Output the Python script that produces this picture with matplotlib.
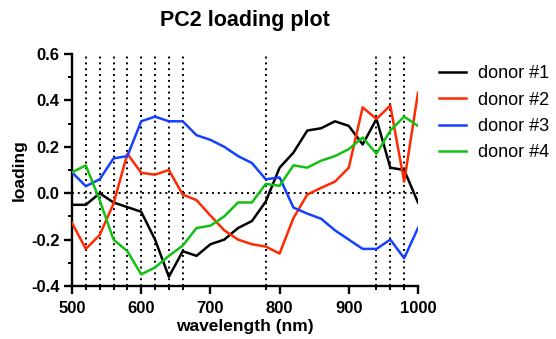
import matplotlib
matplotlib.use("Agg")
import matplotlib.pyplot as plt
import numpy as np

plt.rcParams['font.family'] = ['Liberation Sans', 'DejaVu Sans']
plt.rcParams['axes.unicode_minus'] = False

# wavelengths (nm), one point every 20 nm
wavelength = list(range(500, 1001, 20))

donor1 = [-0.05, -0.05, 0.00, -0.04, -0.06, -0.08, -0.20, -0.36, -0.25, -0.27,
          -0.22, -0.20, -0.15, -0.12, -0.036, 0.11, 0.175, 0.27, 0.28, 0.31,
          0.29, 0.21, 0.32, 0.11, 0.10, -0.04]
donor2 = [-0.128, -0.24, -0.18, -0.045, 0.17, 0.088, 0.08, 0.10, -0.006, -0.03,
          -0.096, -0.16, -0.20, -0.22, -0.23, -0.26, -0.107, -0.006, 0.023, 0.05,
          0.11, 0.37, 0.32, 0.378, 0.05, 0.433]
donor3 = [0.09, 0.03, 0.06, 0.15, 0.16, 0.31, 0.33, 0.31, 0.31, 0.25,
          0.23, 0.20, 0.16, 0.13, 0.06, 0.068, -0.062, -0.088, -0.11, -0.16,
          -0.20, -0.24, -0.24, -0.20, -0.28, -0.15]
donor4 = [0.09, 0.12, -0.03, -0.20, -0.25, -0.35, -0.32, -0.27, -0.226, -0.15,
          -0.14, -0.10, -0.04, -0.04, 0.04, 0.032, 0.12, 0.11, 0.14, 0.16,
          0.19, 0.24, 0.17, 0.27, 0.33, 0.29]

labels = ['donor #1', 'donor #2', 'donor #3', 'donor #4']
colors = ['#000000', '#ff2a00', '#1440ff', '#14c014']

# wavelengths marked with dotted lines
marked = [520, 540, 560, 580, 600, 620, 640, 660, 780, 940, 960, 980]

fig = plt.figure(figsize=(5.56, 3.39), dpi=100)
ax = fig.add_axes([0.1295, 0.1563, 0.6223, 0.6844])

for x in marked:
    ax.axvline(x, color='black', ls=(0, (1, 2)), lw=1.4, zorder=1)
ax.axhline(0, color='black', ls=(0, (1, 2)), lw=1.4, zorder=1)

for ys, lab, c in zip([donor1, donor2, donor3, donor4], labels, colors):
    ax.plot(wavelength, ys, color=c, lw=1.8, label=lab, zorder=3)

ax.set_xlim(500, 1000)
ax.set_ylim(-0.4, 0.6)
ax.set_xticks(range(500, 1001, 100))
ax.set_xticks(marked, minor=True)
ax.set_yticks(np.arange(-0.4, 0.61, 0.2))
ax.set_yticks(np.arange(-0.3, 0.6, 0.2), minor=True)
ax.set_yticklabels(['-0.4', '-0.2', '0.0', '0.2', '0.4', '0.6'])

for s in ['top', 'right']:
    ax.spines[s].set_visible(False)
for s in ['left', 'bottom']:
    ax.spines[s].set_linewidth(1.7)

ax.tick_params(which='major', length=6, width=1.7, labelsize=12)
ax.tick_params(axis='x', which='major', pad=5)
ax.tick_params(axis='y', which='major', pad=3)
ax.tick_params(which='minor', length=3, width=1.4)
for t in ax.get_xticklabels() + ax.get_yticklabels():
    t.set_fontweight('bold')

ax.set_xlabel('wavelength (nm)', fontsize=12.5, fontweight='bold', labelpad=2)
ax.set_ylabel('loading', fontsize=12.5, fontweight='bold', labelpad=3)
ax.set_title('PC2 loading plot', fontsize=15.5, fontweight='bold', pad=20)

ax.legend(loc='upper left', bbox_to_anchor=(1.04, 0.983), frameon=False,
          borderaxespad=0, fontsize=13, handlelength=1.5, handletextpad=0.65,
          labelspacing=0.52)

plt.savefig('out.png', dpi=100)
